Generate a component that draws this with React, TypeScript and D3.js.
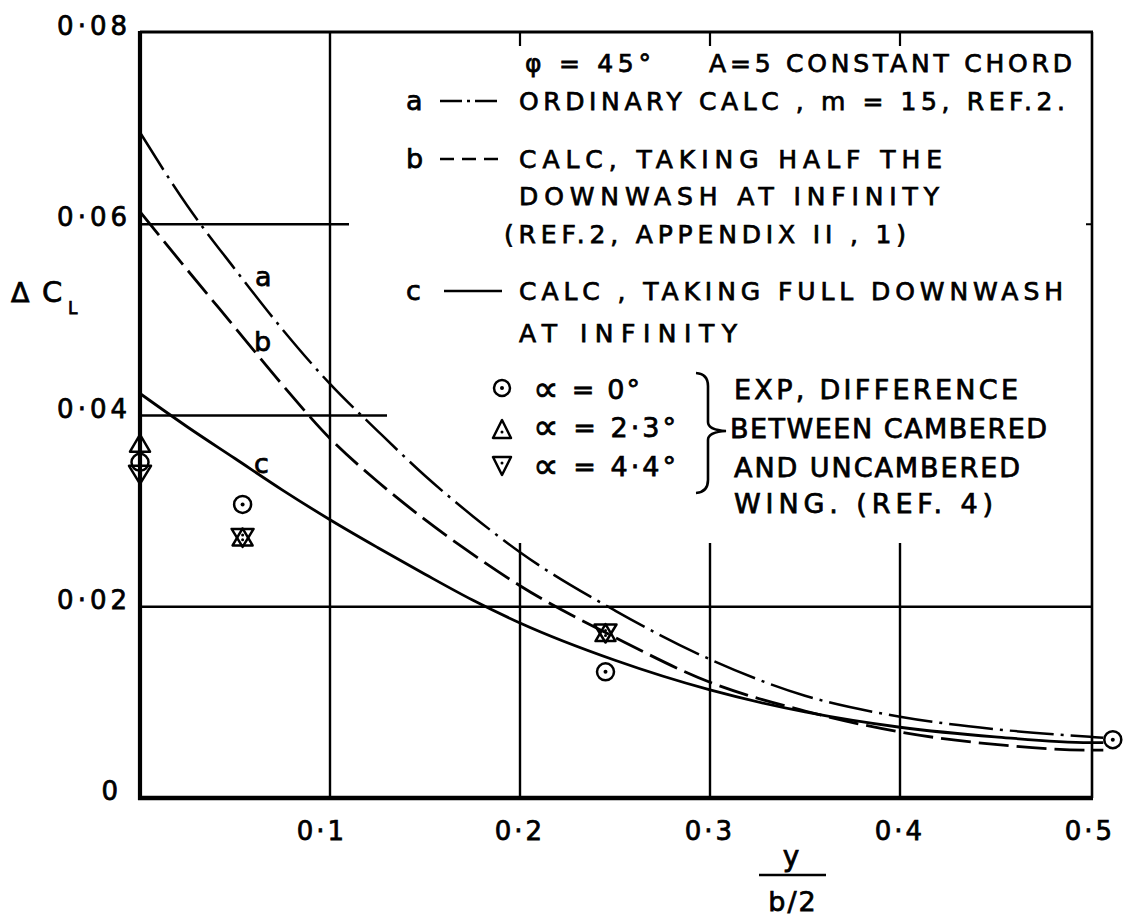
import React from "react";
import * as d3 from "d3";

// ---------- data ----------
const X_TICKS = [0.1, 0.2, 0.3, 0.4, 0.5];
const X_TICK_LABELS = ["0·1", "0·2", "0·3", "0·4", "0·5"];
const Y_TICKS = [0, 0.02, 0.04, 0.06, 0.08];
const Y_TICK_LABELS = ["0", "0·02", "0·04", "0·06", "0·08"];

const CURVE_X = [0, 0.025, 0.05, 0.075, 0.1, 0.125, 0.15, 0.175, 0.2, 0.25, 0.3, 0.35, 0.4, 0.45, 0.5, 0.507];
// a: ordinary calc (dash-dot)
const CURVE_A = [0.0696, 0.0619, 0.0553, 0.049, 0.0433, 0.0384, 0.0337, 0.0295, 0.0257, 0.0196, 0.0145, 0.0107, 0.0085, 0.0072, 0.0064, 0.0063];
// b: half downwash at infinity (dashed)
const CURVE_B = [0.0613, 0.0552, 0.0492, 0.0432, 0.0376, 0.0331, 0.0291, 0.0255, 0.0222, 0.0168, 0.0121, 0.0091, 0.0069, 0.0056, 0.005, 0.005];
// c: full downwash at infinity (solid)
const CURVE_C = [0.0423, 0.0388, 0.0355, 0.0322, 0.0291, 0.0262, 0.0234, 0.0207, 0.0183, 0.0144, 0.0113, 0.009, 0.0074, 0.0064, 0.0058, 0.0058];

// experimental points
const ALPHA0_X = [0, 0.054, 0.245, 0.512];
const ALPHA0_Y = [0.0351, 0.0307, 0.0132, 0.0061];
const ALPHA23_X = [0, 0.054, 0.245];
const ALPHA23_Y = [0.0371, 0.0273, 0.0173];
const ALPHA44_X = [0, 0.054, 0.245];
const ALPHA44_Y = [0.0338, 0.0272, 0.0172];

// ---------- layout ----------
const W = 1128;
const H = 916;
const FONT = "'DejaVu Sans', sans-serif";
const TEXT_STROKE = 0.75;

const x = d3.scaleLinear().domain([0, 0.5]).range([140, 1090]);
const y = d3.scaleLinear().domain([0, 0.08]).range([798, 33]);

const line = d3
  .line<[number, number]>()
  .x((d) => x(d[0]))
  .y((d) => y(d[1]))
  .curve(d3.curveMonotoneX);

const zip = (xs: number[], ys: number[]) => xs.map((v, i) => [v, ys[i]] as [number, number]);

function Circle({ cx, cy, r }: { cx: number; cy: number; r: number }) {
  return (
    <g>
      <circle cx={cx} cy={cy} r={r} fill="none" stroke="black" strokeWidth={2.5} />
      <circle cx={cx} cy={cy} r={2} fill="black" />
    </g>
  );
}

function Tri({ cx, cy, w, h, down }: { cx: number; cy: number; w: number; h: number; down?: boolean }) {
  const s = down ? -1 : 1;
  const pts = [
    [cx, cy - (s * h) / 2],
    [cx - w / 2, cy + (s * h) / 2],
    [cx + w / 2, cy + (s * h) / 2],
  ];
  const dy = down ? -h / 6 : h / 6;
  return (
    <g>
      <polygon points={pts.map((p) => p.join(",")).join(" ")} fill="none" stroke="black" strokeWidth={2.5} strokeLinejoin="round" />
      <circle cx={cx} cy={cy + dy} r={1.5} fill="black" />
    </g>
  );
}

export default function App() {
  const left = x(0);
  const right = x(0.5) + 2;
  const top = y(0.08) - 1;
  const bottom = y(0);

  const legendText = (t: React.ReactNode, tx: number, ty: number, len?: number, size = 25) => (
    <text
      x={tx}
      y={ty}
      fontSize={size}
      fontFamily={FONT}
      fill="black"
      stroke="black"
      strokeWidth={TEXT_STROKE}
      {...(len ? { textLength: len, lengthAdjust: "spacing" } : {})}
    >
      {t}
    </text>
  );

  const alphaRow = (val: string, ty: number, len: number) =>
    legendText(
      <>
        <tspan fontSize={36} dy={2}>∝</tspan>
        <tspan dy={-2}>{" = " + val}</tspan>
      </>,
      533,
      ty,
      len,
      27
    );

  return (
    <svg
      width={W}
      height={H}
      viewBox={`0 0 ${W} ${H}`}
      style={{ position: "absolute", left: 0, top: 0, background: "white" }}
    >
      <rect x={0} y={0} width={W} height={H} fill="white" />

      {/* grid: full 0.1 vertical, partial others */}
      <line x1={x(0.1)} x2={x(0.1)} y1={top} y2={bottom} stroke="black" strokeWidth={2.4} />
      {[0.2, 0.3, 0.4].map((t) => (
        <g key={t}>
          <line x1={x(t)} x2={x(t)} y1={top} y2={top + 14} stroke="black" strokeWidth={2.2} />
          <line x1={x(t)} x2={x(t)} y1={543} y2={bottom} stroke="black" strokeWidth={2.4} />
        </g>
      ))}
      {/* horizontal grid */}
      <line x1={left} x2={x(0.11)} y1={y(0.06)} y2={y(0.06)} stroke="black" strokeWidth={2.6} />
      <line x1={left} x2={x(0.13)} y1={y(0.04)} y2={y(0.04)} stroke="black" strokeWidth={2.6} />
      <line x1={left} x2={right} y1={y(0.02)} y2={y(0.02)} stroke="black" strokeWidth={2.4} />
      <line x1={right - 6} x2={right} y1={y(0.06)} y2={y(0.06)} stroke="black" strokeWidth={2} />

      {/* frame */}
      <line x1={left} x2={right + 1} y1={top} y2={top} stroke="black" strokeWidth={3} />
      <line x1={right} x2={right} y1={top} y2={bottom} stroke="black" strokeWidth={2.6} />
      <line x1={left} x2={left} y1={top - 1} y2={bottom + 2} stroke="black" strokeWidth={4.2} />
      <line x1={left - 2} x2={right + 1} y1={bottom} y2={bottom} stroke="black" strokeWidth={4.5} />

      {/* curves */}
      <path d={line(zip(CURVE_X, CURVE_A)) || ""} fill="none" stroke="black" strokeWidth={2.5} strokeDasharray="44 7 3 7" />
      <path d={line(zip(CURVE_X, CURVE_B)) || ""} fill="none" stroke="black" strokeWidth={2.8} strokeDasharray="30 8" />
      <path d={line(zip(CURVE_X, CURVE_C)) || ""} fill="none" stroke="black" strokeWidth={2.8} />

      {/* curve labels */}
      {legendText("a", 255, 286, undefined, 27)}
      {legendText("b", 254, 351, undefined, 27)}
      {legendText("c", 254, 473, undefined, 27)}

      {/* experimental points */}
      {ALPHA23_X.map((v, i) => (
        <Tri key={"u" + i} cx={x(v)} cy={y(ALPHA23_Y[i])} w={20} h={17} />
      ))}
      {ALPHA44_X.map((v, i) => (
        <Tri key={"d" + i} cx={x(v)} cy={y(ALPHA44_Y[i])} w={22} h={18} down />
      ))}
      {ALPHA0_X.map((v, i) => (
        <Circle key={"c" + i} cx={x(v)} cy={y(ALPHA0_Y[i])} r={8.5} />
      ))}

      {/* y tick labels */}
      {Y_TICKS.map((t, i) => (
        <text
          key={t}
          x={t === 0 ? 118 : 131}
          y={y(t) + 2}
          textAnchor="end"
          fontSize={26}
          fontFamily={FONT}
          letterSpacing={t === 0 ? 0 : 4}
          stroke="black"
          strokeWidth={TEXT_STROKE}
        >
          {Y_TICK_LABELS[i]}
        </text>
      ))}
      {/* x tick labels */}
      {X_TICKS.map((t, i) => (
        <text
          key={t}
          x={x(t) - (t === 0.1 ? 8 : 0)}
          y={840}
          textAnchor="middle"
          fontSize={26}
          fontFamily={FONT}
          letterSpacing={3}
          stroke="black"
          strokeWidth={TEXT_STROKE}
        >
          {X_TICK_LABELS[i]}
        </text>
      ))}

      {/* axis titles */}
      {legendText("Δ", 11, 302, undefined, 27)}
      {legendText("C", 42, 302, undefined, 29)}
      {legendText("L", 68, 314, undefined, 17)}
      <text x={791} y={866} textAnchor="middle" fontSize={28} fontFamily={FONT} stroke="black" strokeWidth={TEXT_STROKE}>
        y
      </text>
      <line x1={759} x2={826} y1={875} y2={875} stroke="black" strokeWidth={2.4} />
      <text x={793} y={911} textAnchor="middle" fontSize={27} fontFamily={FONT} letterSpacing={2} stroke="black" strokeWidth={TEXT_STROKE}>
        b/2
      </text>

      {/* legend */}
      {legendText("φ = 45°", 525, 72, 126)}
      {legendText("A=5 CONSTANT CHORD", 709, 72, 363)}

      {legendText("a", 406, 110, undefined, 27)}
      <line x1={440} x2={498} y1={101} y2={101} stroke="black" strokeWidth={2.4} strokeDasharray="22 5 3 5" />
      {legendText("ORDINARY  CALC , m = 15, REF.2.", 519, 110, 546)}

      {legendText("b", 406, 168, undefined, 27)}
      <line x1={440} x2={500} y1={159} y2={159} stroke="black" strokeWidth={2.4} strokeDasharray="14 8" />
      {legendText("CALC, TAKING  HALF  THE", 519, 168, 423)}
      {legendText("DOWNWASH  AT  INFINITY", 519, 205, 420)}
      {legendText("(REF.2,  APPENDIX  II , 1)", 504, 243, 402)}

      {legendText("c", 406, 300, undefined, 27)}
      <line x1={444} x2={502} y1={291} y2={291} stroke="black" strokeWidth={2.6} />
      {legendText("CALC , TAKING  FULL  DOWNWASH", 519, 300, 544)}
      {legendText("AT  INFINITY", 519, 342, 218)}

      <Circle cx={502} cy={388} r={8} />
      <Tri cx={502} cy={429} w={18} h={18} />
      <Tri cx={502} cy={466} w={18} h={18} down />
      {alphaRow("0°", 399, 107)}
      {alphaRow("2·3°", 437, 143)}
      {alphaRow("4·4°", 476, 143)}

      <path
        d="M696,373 Q708,374 708,386 L708,422 Q708,430 726,431 Q708,432 708,440 L708,480 Q708,492 696,493"
        fill="none"
        stroke="black"
        strokeWidth={2.6}
      />
      {legendText("EXP, DIFFERENCE", 734, 399, 284, 27)}
      {legendText("BETWEEN CAMBERED", 730, 438, 317, 27)}
      {legendText("AND UNCAMBERED", 734, 477, 286, 27)}
      {legendText("WING.  (REF. 4)", 734, 513, 259, 27)}
    </svg>
  );
}
